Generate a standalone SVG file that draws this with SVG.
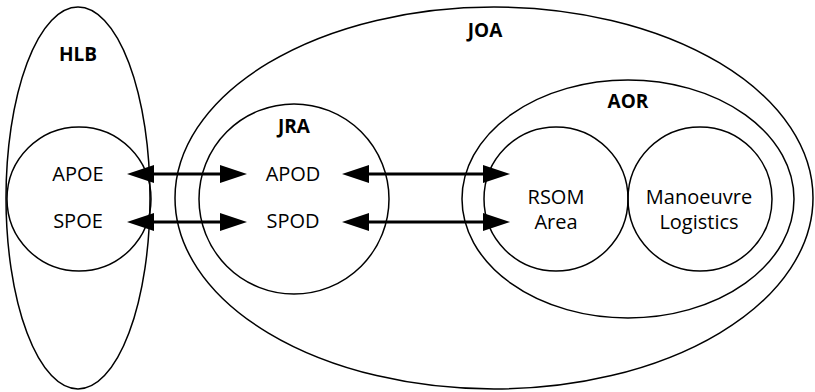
<svg xmlns="http://www.w3.org/2000/svg" width="815" height="392" viewBox="0 0 815 392">
<style>
.shape{fill:none;stroke:#000;stroke-width:1.5}
.lbl{font-family:"Open Sans","Noto Sans",sans-serif;font-size:20px;fill:#000;text-anchor:middle}
.ttl{font-family:"Open Sans","Noto Sans",sans-serif;font-size:19px;font-weight:bold;fill:#000;text-anchor:middle}
.conn{fill:none;stroke:#000;stroke-width:3;marker-start:url(#ah);marker-end:url(#ah)}
</style>
<defs>
<marker id="ah" markerUnits="userSpaceOnUse" markerWidth="27" markerHeight="18" viewBox="0 0 27 18" refX="0" refY="9" orient="auto-start-reverse">
<path d="M0,0 L27,9 L0,18 z" fill="#000"/>
</marker>
</defs>
<rect width="815" height="392" fill="#fff"/>
<g id="HLB">
<ellipse class="shape" cx="78" cy="198" rx="72" ry="191"/>
<text class="ttl" x="78" y="61">HLB</text>
</g>
<g id="POE">
<circle class="shape" cx="79" cy="199" r="72"/>
<text class="lbl" x="78" y="181">APOE</text>
<text class="lbl" x="78" y="228">SPOE</text>
</g>
<g id="JOA">
<ellipse class="shape" cx="494" cy="198" rx="319" ry="191"/>
<text class="ttl" x="485" y="37">JOA</text>
</g>
<g id="JRA">
<circle class="shape" cx="294" cy="199" r="95"/>
<text class="ttl" x="294" y="133">JRA</text>
<text class="lbl" x="293" y="181">APOD</text>
<text class="lbl" x="293" y="228">SPOD</text>
</g>
<g id="AOR">
<ellipse class="shape" cx="628" cy="199" rx="166" ry="119"/>
<text class="ttl" x="628" y="108">AOR</text>
</g>
<g id="RSOM">
<circle class="shape" cx="556" cy="199" r="72"/>
<text class="lbl" x="556" y="204">RSOM</text>
<text class="lbl" x="556" y="229">Area</text>
</g>
<g id="Manoeuvre">
<circle class="shape" cx="700" cy="199" r="72"/>
<text class="lbl" x="699" y="204">Manoeuvre</text>
<text class="lbl" x="699" y="229">Logistics</text>
</g>
<g id="connectors">
<path class="conn" d="M154,174 H220"/>
<path class="conn" d="M154,222 H220"/>
<path class="conn" d="M369,174 H483"/>
<path class="conn" d="M369,222 H483"/>
</g>
</svg>
